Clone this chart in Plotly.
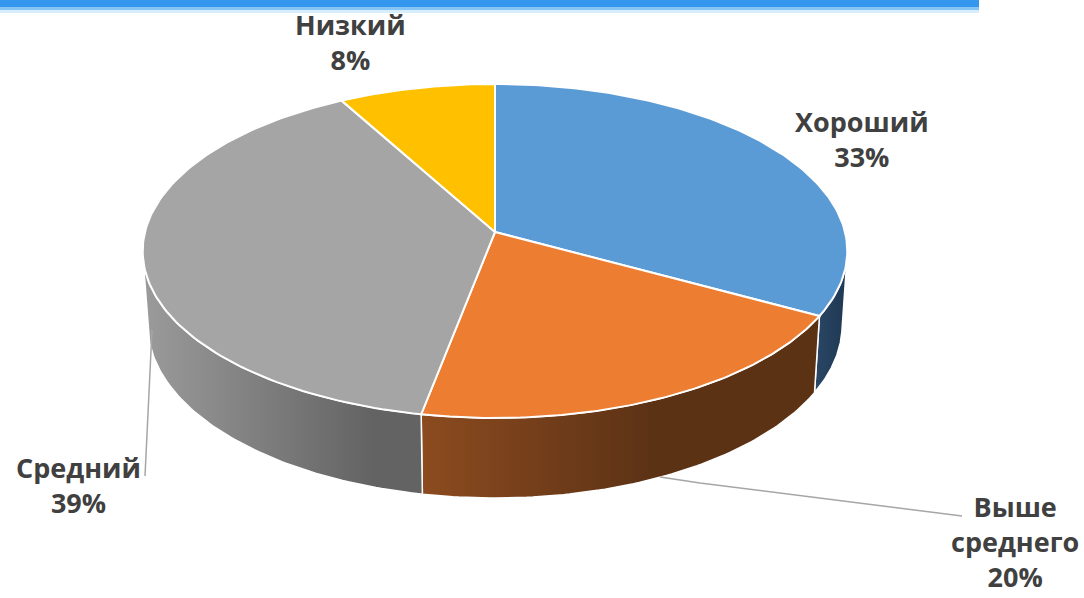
import numpy as np
import plotly.graph_objects as go

# ---- data ----
categories = ["Хороший", "Выше среднего", "Средний", "Низкий"]
percents = [33, 20, 39, 8]
label_texts = ["<b>Хороший<br>33%</b>", "<b>Выше<br>среднего<br>20%</b>",
               "<b>Средний<br>39%</b>", "<b>Низкий<br>8%</b>"]
top_colors = ["#5B9BD5", "#ED7D31", "#A5A5A5", "#FFC000"]
side_colors = [("#2A4766", "#1F3852"), ("#8C4B1F", "#5C3215"),
               ("#9B9B9B", "#636363"), ("#7F6000", "#7F6000")]

# ---- 3D projection (style/geometry constants) ----
CX, CY = 495.0, 232.0
D, ALPHA = 7.76, np.radians(28.1)
C, S = np.cos(ALPHA), np.sin(ALPHA)
F = 350.0 * D
H = 0.2425


def proj(theta_deg, yw):
    th = np.radians(theta_deg)
    X, Z = np.sin(th), np.cos(th)
    depth = D - yw * S + Z * C
    up = yw * C + Z * S
    return CX + F * X / depth, CY - F * up / depth


vis_lo = np.degrees(np.arccos(-1.0 / (D * C)))
vis_hi = 360.0 - vis_lo

fig = go.Figure()

total = sum(percents)
bounds = np.concatenate([[0], np.cumsum(percents) / total * 360.0])

# side walls
for i in range(len(percents)):
    a1, a2 = max(bounds[i], vis_lo), min(bounds[i + 1], vis_hi)
    if a2 <= a1:
        continue
    th = np.linspace(a1, a2, 80)
    xt, yt = proj(th, 0.0)
    xb, yb = proj(th[::-1], -H)
    xs = np.concatenate([xt, xb, xt[:1]])
    ys = np.concatenate([yt, yb, yt[:1]])
    c1, c2 = side_colors[i]
    fig.add_trace(go.Scatter(
        x=xs, y=ys, mode="lines", fill="toself",
        fillgradient=dict(type="horizontal", colorscale=[[0, c1], [1, c2]],
                          start=float(xs.min()),
                          stop=float(min(xs.max(), xs.min() + 230))),
        line=dict(color="white", width=1.5), hoverinfo="skip"))

# top faces
for i in range(len(percents)):
    th = np.linspace(bounds[i], bounds[i + 1], 120)
    xr, yr = proj(th, 0.0)
    xs = np.concatenate([[CX], xr, [CX]])
    ys = np.concatenate([[CY], yr, [CY]])
    fig.add_trace(go.Scatter(
        x=xs, y=ys, mode="lines", fill="toself", fillcolor=top_colors[i],
        line=dict(color="white", width=2), hoverinfo="skip"))

# leader lines
fig.add_trace(go.Scatter(x=[152, 145], y=[330, 476], mode="lines",
                         line=dict(color="#A6A6A6", width=1.5), hoverinfo="skip"))
fig.add_trace(go.Scatter(x=[660, 700, 962], y=[477, 483, 516], mode="lines",
                         line=dict(color="#A6A6A6", width=1.5), hoverinfo="skip"))

# labels
label_pos = [(862, 139), (1015, 541), (78, 485), (350, 42)]
for txt, (lx, ly) in zip(label_texts, label_pos):
    fig.add_annotation(x=lx, y=ly, text=txt, showarrow=False,
                       xanchor="center", yanchor="middle",
                       font=dict(family="Open Sans", size=27, color="#404040"))

# decorative top bar
shapes = [
    dict(type="rect", x0=0, x1=979, y0=0, y1=7, fillcolor="#3397EE", line_width=0),
    dict(type="rect", x0=0, x1=979, y0=7, y1=10, fillcolor="#86C4F3", line_width=0),
    dict(type="rect", x0=0, x1=979, y0=10, y1=13, fillcolor="#D6EEFB", line_width=0),
]

fig.update_layout(
    width=1084, height=598, autosize=False,
    margin=dict(l=0, r=0, t=0, b=0),
    paper_bgcolor="white", plot_bgcolor="white",
    showlegend=False, shapes=shapes,
    xaxis=dict(range=[0, 1084], visible=False, fixedrange=True),
    yaxis=dict(range=[598, 0], visible=False, fixedrange=True),
)

fig.write_html("out.html", config={"displayModeBar": False},
               post_script="document.body.style.margin='0';document.body.style.overflow='hidden';")
